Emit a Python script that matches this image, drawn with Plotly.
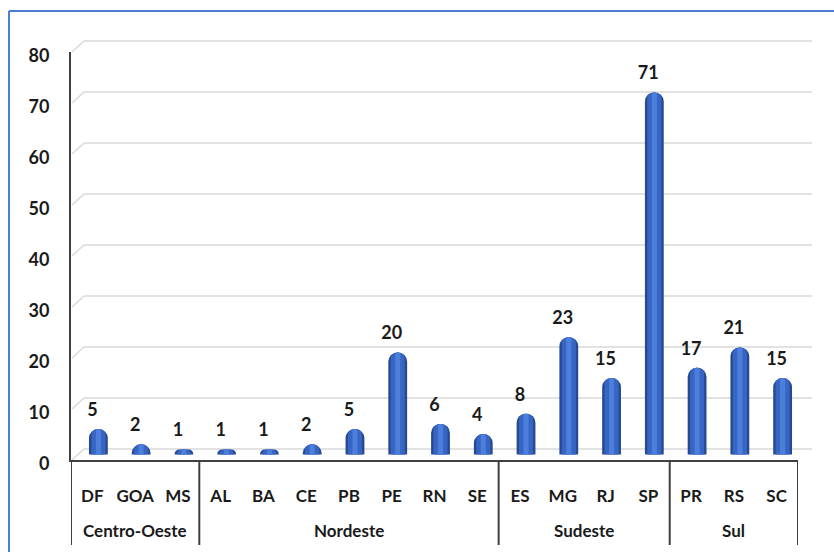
import plotly.graph_objects as go

# Number of records per state, grouped by region
regions = ["Centro-Oeste"] * 3 + ["Nordeste"] * 7 + ["Sudeste"] * 4 + ["Sul"] * 3
states = ["DF", "GOA", "MS", "AL", "BA", "CE", "PB", "PE", "RN", "SE",
          "ES", "MG", "RJ", "SP", "PR", "RS", "SC"]
counts = [5, 2, 1, 1, 1, 2, 5, 20, 6, 4, 8, 23, 15, 71, 17, 21, 15]
y_ticks = [0, 10, 20, 30, 40, 50, 60, 70, 80]

W, H = 834, 552
ML, MR, MT, MB = 71, 36, 52, 92
PW, PH = W - ML - MR, H - MT - MB

DEPTH = 1.08          # half depth of the pseudo-3D floor, in value units
YMAX = y_ticks[-1]
BACK_DX = 13          # horizontal offset of the back wall, px

FAMILY = "Lato, 'Open Sans', sans-serif"
FONT = dict(family=FAMILY, size=17, color="#1a1a1a", weight="bold")
BIG = dict(family=FAMILY, size=18, color="#1a1a1a", weight="bold")
AXIS_COLOR = "#404040"


def px_x(px):
    return (px - ML) / PW


def px_y(py):
    return (H - MB - py) / PH


def val_y(v):
    # paper y for a front-edge value
    return v / YMAX


fig = go.Figure()

n = len(states)
shift = 6 / (PW / n)   # bars stand mid-depth, a little to the right of the front

# cylinder shading: dark rim, body, light core
for width, color in [(0.44, "#27498f"), (0.33, "#3765c4"), (0.12, "#4c7fdb")]:
    fig.add_trace(go.Bar(
        x=states, y=counts, width=width, offset=shift - width / 2,
        marker=dict(color=color, line=dict(width=0), cornerradius="48%"),
        hoverinfo="skip", showlegend=False,
    ))

# value labels above the bars
fig.add_trace(go.Scatter(
    x=states, y=counts, mode="text+markers", text=[str(c) for c in counts],
    textposition="top center", textfont=BIG,
    marker=dict(size=12, color="rgba(0,0,0,0)"),
    hoverinfo="skip", showlegend=False,
))

shapes = []
annotations = []

# back wall gridlines with their slanted lead-in from the front axis
grid = dict(color="#d9d9d9", width=1.5)
for v in y_ticks:
    yb = val_y(v + 2 * DEPTH)
    shapes.append(dict(type="line", xref="paper", yref="paper",
                       x0=px_x(ML + 1), y0=val_y(v), x1=px_x(ML + BACK_DX), y1=yb,
                       line=grid, layer="below"))
    shapes.append(dict(type="line", xref="paper", yref="paper",
                       x0=px_x(ML + BACK_DX), y0=yb, x1=px_x(ML + PW + BACK_DX + 1), y1=yb,
                       line=grid, layer="below"))

# region groups: dividers and labels under the state names
groups = []
for i, r in enumerate(regions):
    if not groups or groups[-1][0] != r:
        groups.append([r, i, i])
    else:
        groups[-1][2] = i

divider = dict(color=AXIS_COLOR, width=2)
edges = sorted({g[1] - 0.5 for g in groups} | {g[2] + 0.5 for g in groups})
for e in edges:
    shapes.append(dict(type="line", xref="x", yref="paper",
                       x0=e, x1=e, y0=px_y(H - MB), y1=px_y(545), line=divider))
for name, i0, i1 in groups:
    annotations.append(dict(xref="x", yref="paper", x=(i0 + i1) / 2, y=px_y(530),
                            text=name, showarrow=False, font=FONT,
                            xanchor="center", yanchor="middle"))

# outer frame
frame = dict(color="#4a7fd6", width=2)
shapes.append(dict(type="line", xref="paper", yref="paper",
                   x0=px_x(9), y0=px_y(11), x1=px_x(W + 5), y1=px_y(11), line=frame))
shapes.append(dict(type="line", xref="paper", yref="paper",
                   x0=px_x(9), y0=px_y(11), x1=px_x(9), y1=px_y(H + 5), line=frame))

fig.update_layout(
    width=W, height=H,
    margin=dict(l=ML, r=MR, t=MT, b=MB),
    paper_bgcolor="white", plot_bgcolor="rgba(0,0,0,0)",
    barmode="overlay",
    shapes=shapes,
    annotations=annotations,
    font=FONT,
)

fig.update_xaxes(
    type="category",
    range=[-0.5, n - 0.5],
    showline=True, linecolor=AXIS_COLOR, linewidth=2,
    showgrid=False, ticks="", tickangle=0,
    ticklabelstandoff=20,
    tickfont=FONT,
)
fig.update_yaxes(
    range=[-DEPTH, YMAX - DEPTH],
    tickvals=[v - DEPTH for v in y_ticks], ticktext=[str(v) for v in y_ticks],
    showline=True, linecolor=AXIS_COLOR, linewidth=2,
    showgrid=False, zeroline=False, ticks="",
    ticklabelstandoff=16, ticklabelshift=4,
    tickfont=BIG,
)

fig.write_html("out.html")
